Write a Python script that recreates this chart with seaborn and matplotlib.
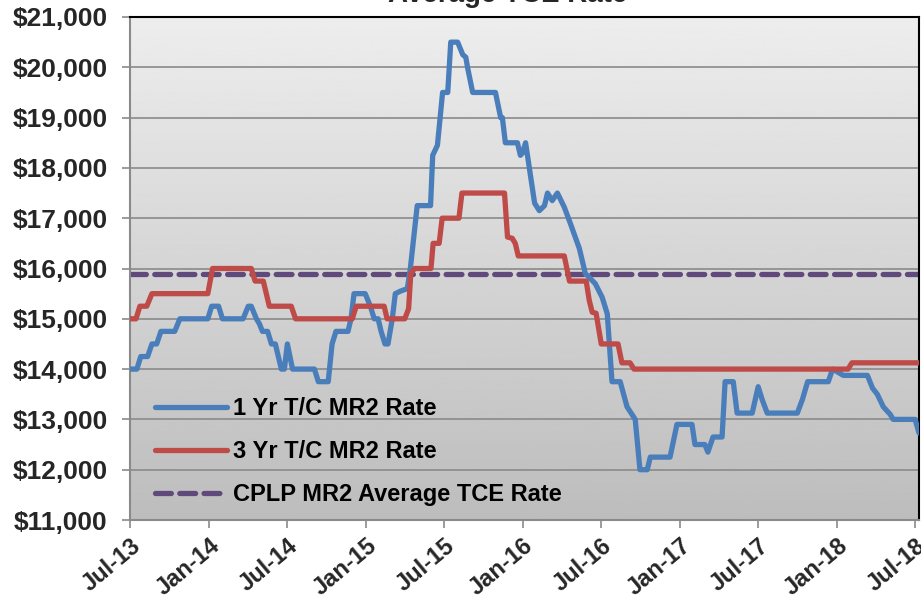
import numpy as np
import pandas as pd
import matplotlib
matplotlib.use("Agg")
import matplotlib.pyplot as plt
import matplotlib.dates as mdates
from matplotlib.ticker import FuncFormatter, MultipleLocator
import seaborn as sns

# ---------------- data ----------------
one_yr_points = [
    ("2013-07-01", 14000), ("2013-07-17", 14000), ("2013-07-26", 14250), ("2013-08-11", 14250),
    ("2013-08-21", 14500), ("2013-09-01", 14500), ("2013-09-11", 14750), ("2013-10-13", 14750),
    ("2013-10-25", 15000), ("2013-12-29", 15000), ("2014-01-07", 15250), ("2014-01-23", 15250),
    ("2014-02-01", 15000), ("2014-03-21", 15000), ("2014-04-02", 15250), ("2014-04-09", 15250),
    ("2014-04-21", 15000), ("2014-04-28", 14900), ("2014-05-05", 14750), ("2014-05-17", 14750),
    ("2014-05-26", 14500), ("2014-06-04", 14500), ("2014-06-18", 14000), ("2014-06-25", 14000),
    ("2014-07-02", 14500), ("2014-07-14", 14000), ("2014-09-03", 14000), ("2014-09-12", 13750),
    ("2014-10-05", 13750), ("2014-10-14", 14500), ("2014-10-23", 14750), ("2014-11-20", 14750),
    ("2014-11-27", 15000), ("2014-12-04", 15500), ("2014-12-30", 15500), ("2015-01-11", 15250),
    ("2015-01-20", 15000), ("2015-01-29", 15000), ("2015-02-05", 14750), ("2015-02-14", 14500),
    ("2015-02-21", 14500), ("2015-03-03", 15000), ("2015-03-10", 15500), ("2015-03-22", 15550),
    ("2015-04-07", 15600), ("2015-04-14", 16000), ("2015-04-30", 17250), ("2015-05-31", 17250),
    ("2015-06-05", 18250), ("2015-06-16", 18450), ("2015-06-28", 19500), ("2015-07-10", 19500),
    ("2015-07-17", 20500), ("2015-08-02", 20500), ("2015-08-14", 20250), ("2015-08-21", 20200),
    ("2015-08-25", 20000), ("2015-09-06", 19500), ("2015-10-29", 19500), ("2015-11-10", 19000),
    ("2015-11-14", 19000), ("2015-11-21", 18500), ("2015-12-19", 18500), ("2015-12-26", 18250),
    ("2015-12-31", 18300), ("2016-01-07", 18500), ("2016-01-28", 17300), ("2016-02-08", 17150),
    ("2016-02-20", 17250), ("2016-02-27", 17500), ("2016-03-09", 17350), ("2016-03-21", 17500),
    ("2016-04-06", 17220), ("2016-04-20", 16900), ("2016-05-11", 16400), ("2016-05-25", 15900),
    ("2016-06-17", 15700), ("2016-07-03", 15430), ("2016-07-15", 15100), ("2016-07-26", 13750),
    ("2016-08-14", 13750), ("2016-08-30", 13250), ("2016-09-18", 13000), ("2016-09-29", 12000),
    ("2016-10-16", 12000), ("2016-10-23", 12250), ("2016-12-08", 12250), ("2016-12-24", 12900),
    ("2017-01-28", 12900), ("2017-02-04", 12500), ("2017-02-27", 12500), ("2017-03-06", 12350),
    ("2017-03-18", 12650), ("2017-04-08", 12650), ("2017-04-15", 13750), ("2017-05-04", 13750),
    ("2017-05-13", 13125), ("2017-06-17", 13125), ("2017-07-01", 13650), ("2017-07-10", 13400),
    ("2017-07-22", 13125), ("2017-09-30", 13125), ("2017-10-12", 13400), ("2017-10-24", 13750),
    ("2017-12-11", 13750), ("2017-12-21", 14000), ("2018-01-15", 13875), ("2018-03-12", 13875),
    ("2018-03-24", 13620), ("2018-04-04", 13500), ("2018-04-18", 13250), ("2018-05-04", 13100),
    ("2018-05-11", 13000), ("2018-07-01", 13000), ("2018-07-10", 12730),
]
one_yr_dates = [d for d, _ in one_yr_points]
one_yr_rate = [v for _, v in one_yr_points]

three_yr_dates = ["2013-07-01", "2013-07-15", "2013-07-24", "2013-08-09", "2013-08-21",
                  "2013-12-29", "2014-01-09", "2014-04-09", "2014-04-18", "2014-05-07",
                  "2014-05-21", "2014-07-11", "2014-07-21", "2014-11-30", "2014-12-09",
                  "2015-02-12", "2015-02-19", "2015-04-01", "2015-04-10", "2015-04-15",
                  "2015-04-24", "2015-06-01", "2015-06-06", "2015-06-20", "2015-06-27",
                  "2015-08-05", "2015-08-12", "2015-11-19", "2015-11-26", "2015-12-07",
                  "2015-12-14", "2015-12-21", "2016-04-06", "2016-04-18", "2016-05-27",
                  "2016-06-03", "2016-06-10", "2016-06-19", "2016-07-01", "2016-07-10",
                  "2016-08-09", "2016-08-18", "2016-09-06", "2016-09-15", "2018-01-26",
                  "2018-02-04", "2018-07-10"]
three_yr_rate = [15000, 15000, 15250, 15250, 15500,
                 15500, 16000, 16000, 15750, 15750,
                 15250, 15250, 15000, 15000, 15250,
                 15250, 15000, 15000, 15200, 15900,
                 16000, 16000, 16500, 16500, 17000,
                 17000, 17500, 17500, 16625, 16600,
                 16500, 16250, 16250, 15750, 15750,
                 15370, 15130, 15110, 14500, 14500,
                 14500, 14125, 14125, 14000, 14000,
                 14125, 14125]

cplp_avg_rate = 15900
series_labels = ["1 Yr T/C MR2 Rate", "3 Yr T/C MR2 Rate", "CPLP MR2 Average TCE Rate"]
title_text = "Average TCE Rate"
x_tick_dates = ["2013-07-01", "2014-01-01", "2014-07-01", "2015-01-01", "2015-07-01",
                "2016-01-01", "2016-07-01", "2017-01-01", "2017-07-01", "2018-01-01",
                "2018-07-01"]
y_min, y_max, y_step = 11000, 21000, 1000

# ---------------- figure ----------------
sns.set_theme(style="white")
plt.rcParams["font.family"] = ["Liberation Sans", "DejaVu Sans"]

fig = plt.figure(figsize=(9.21, 6.0), dpi=100)
ax = fig.add_axes([130 / 921, 80 / 600, 789 / 921, 503 / 600])

df1 = pd.DataFrame({"date": pd.to_datetime(one_yr_dates), "rate": one_yr_rate})
df3 = pd.DataFrame({"date": pd.to_datetime(three_yr_dates), "rate": three_yr_rate})

blue = "#4A7EBB"
red = "#BE4B48"
purple = "#604A7B"

x_start = pd.Timestamp("2013-07-01")
x_end = pd.Timestamp("2018-07-10")

# gradient background of plot area (light at top, darker at bottom)
grad = np.linspace(0.93, 0.74, 256).reshape(-1, 1)
ax.imshow(grad, cmap="gray", vmin=0, vmax=1, extent=[0, 1, 0, 1], origin="upper",
          transform=ax.transAxes, aspect="auto", zorder=0)

sns.lineplot(data=df1, x="date", y="rate", ax=ax, color=blue, linewidth=3.8,
             sort=False, label=series_labels[0], zorder=3)
sns.lineplot(data=df3, x="date", y="rate", ax=ax, color=red, linewidth=3.8,
             sort=False, label=series_labels[1], zorder=3)
ax.axhline(cplp_avg_rate, color=purple, linewidth=3.8, dashes=(3.0, 1.6),
           dash_capstyle="round", label=series_labels[2], zorder=2)

ax.set_xlim(x_start, x_end)
ax.set_ylim(y_min, y_max)

# grid
ax.yaxis.set_major_locator(MultipleLocator(y_step))
for v in np.arange(y_min + y_step, y_max, y_step):
    ax.axhline(v, color="#8a8a8a", linewidth=1.2, zorder=1)

ax.yaxis.set_major_formatter(FuncFormatter(lambda v, p: "\\$" + f"{v:,.0f}"))
ax.set_xticks(pd.to_datetime(x_tick_dates))
ax.xaxis.set_major_formatter(mdates.DateFormatter("%b-%y"))

ax.tick_params(axis="y", which="major", direction="out", length=6, width=1.2,
               color="#8a8a8a", labelsize=19, pad=10, left=True)
ax.tick_params(axis="x", which="major", direction="out", length=6, width=1.2,
               color="#8a8a8a", labelsize=17, pad=4, bottom=True)
for lab in ax.get_yticklabels():
    lab.set_fontweight("bold")
for lab in ax.get_xticklabels():
    lab.set_fontweight("bold")
    lab.set_rotation(40)
    lab.set_ha("right")
    lab.set_va("top")
    lab.set_rotation_mode("anchor")

ax.set_xlabel("")
ax.set_ylabel("")

for side in ["left", "bottom"]:
    ax.spines[side].set_color("#8a8a8a")
    ax.spines[side].set_linewidth(1.5)
for side in ["top", "right"]:
    ax.spines[side].set_color("black")
    ax.spines[side].set_linewidth(1.5)

leg = ax.legend(loc="lower left", bbox_to_anchor=(25 / 789, 14 / 503), frameon=False,
                borderpad=0, borderaxespad=0,
                handlelength=3.05, handletextpad=0.25, labelspacing=0.85,
                prop={"weight": "bold", "size": 17})
for t in leg.get_texts():
    t.set_color("black")

fig.text(0.551, 1 - 1.5 / 600, title_text, ha="center", va="baseline",
         fontsize=20, fontweight="bold")

fig.savefig("out.png", dpi=100)
